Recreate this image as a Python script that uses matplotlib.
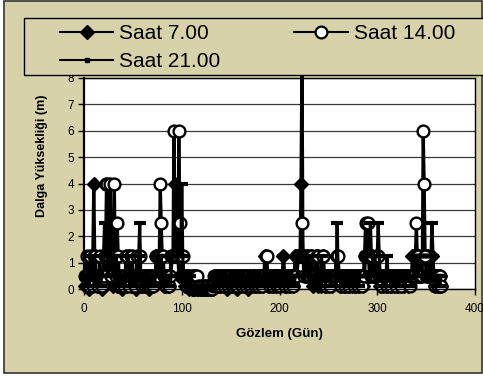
import matplotlib.pyplot as plt
from matplotlib.lines import Line2D
from matplotlib.patches import Rectangle
import numpy as np

plt.rcParams['font.family'] = ['Liberation Sans', 'DejaVu Sans']

# daily wave height readings (m), one value per day of the year
labels = ["Saat 7.00", "Saat 14.00", "Saat 21.00"]

saat_7 = [
    0.1, 0.5, 0.5, 0.1, 0, 0.1, 0.5, 1.25, 1.25, 4,
    1.25, 0.5, 0.1, 0.1, 0.5, 0.5, 0.1, 0, 0.1, 0.5,
    0.5, 1.25, 1.25, 1.25, 0.5, 0.5, 1.25, 1.25, 0.5, 0.1,
    0.5, 1.25, 0.5, 0.1, 0.1, 0.5, 0.5, 0.1, 0, 0.1,
    0.5, 0.5, 0.1, 0.1, 0.5, 1.25, 0.5, 0.1, 0.1, 0.5,
    0.5, 0.1, 0, 0.1, 0.5, 0.5, 0.5, 0.1, 0.1, 0.5,
    0.5, 0.1, 0.1, 0.5, 0.5, 0.1, 0, 0.1, 0.5, 0.1,
    0.1, 0.5, 0.5, 1.25, 0.5, 0.5, 1.25, 1.25, 0.5, 0.5,
    0.5, 0.1, 0.1, 0.5, 0.5, 0.1, 0.1, 0.5, 0.5, 1.25,
    1.25, 1.25, 4, 1.25, 1.25, 1.25, 0.5, 1.25, 1.25, 0.5,
    0.5, 0.5, 0.1, 0.1, 0.5, 0.1, 0, 0.1, 0.1, 0,
    0, 0.1, 0, 0, 0.1, 0, 0, 0.1, 0, 0,
    0.1, 0, 0, 0.1, 0, 0, 0.1, 0.1, 0, 0,
    0.1, 0, 0.1, 0.5, 0.1, 0.1, 0.5, 0.1, 0.1, 0.5,
    0.5, 0.1, 0.1, 0.5, 0.1, 0, 0.1, 0.5, 0.5, 0.1,
    0.1, 0.5, 0.1, 0.1, 0.5, 0.1, 0, 0.1, 0.5, 0.1,
    0.1, 0.5, 0.5, 0.1, 0.1, 0.5, 0.1, 0, 0.1, 0.5,
    0.1, 0.1, 0.5, 0.5, 0.1, 0.1, 0.5, 0.5, 0.1, 0.1,
    0.5, 0.5, 0.1, 0.5, 1.25, 0.5, 0.5, 0.1, 0.1, 0.5,
    0.5, 0.1, 0.1, 0.5, 0.5, 0.1, 0.5, 0.5, 0.1, 0.1,
    0.5, 0.5, 0.5, 1.25, 0.5, 0.1, 0.1, 0.5, 0.5, 0.1,
    0.1, 0.5, 0.5, 0.1, 0.5, 1.25, 0.5, 0.5, 1.25, 1.25,
    1.25, 4, 9, 1.25, 1.25, 0.5, 0.5, 1.25, 0.5, 0.5,
    0.5, 1.25, 0.5, 0.1, 0.5, 0.5, 1.25, 0.5, 0.1, 0.5,
    0.5, 0.1, 0.5, 1.25, 0.5, 0.5, 0.1, 0.1, 0.5, 0.5,
    0.1, 0.5, 0.5, 0.1, 0.5, 0.5, 0.5, 1.25, 0.5, 0.5,
    0.5, 0.1, 0.1, 0.5, 0.5, 0.1, 0.1, 0.5, 0.5, 0.1,
    0.1, 0.5, 0.5, 0.1, 0.5, 0.5, 0.1, 0.1, 0.5, 0.5,
    0.1, 0.5, 0.5, 0.5, 0.1, 0.5, 1.25, 1.25, 1.25, 1.25,
    1.25, 0.5, 0.5, 1.25, 1.25, 0.5, 0.5, 0.5, 1.25, 0.5,
    0.5, 0.5, 0.1, 0.5, 0.5, 0.1, 0.5, 0.5, 0.1, 0.1,
    0.5, 0.5, 0.1, 0.1, 0.5, 0.5, 0.1, 0.5, 0.5, 0.1,
    0.1, 0.5, 0.5, 0.1, 0.5, 0.5, 0.1, 0.5, 0.5, 0.5,
    0.1, 0.5, 0.5, 0.5, 0.5, 1.25, 0.5, 1.25, 1.25, 1.25,
    0.5, 0.5, 1.25, 0.5, 0.5, 1.25, 1.25, 1.25, 1.25, 1.25,
    1.25, 1.25, 0.5, 0.5, 1.25, 1.25, 0.5, 0.5, 0.1, 0.5,
    0.5, 0.1, 0.1, 0.5, 0.1,
]

saat_14 = [
    0.5, 0.5, 1.25, 0.5, 0.1, 1.25, 0.5, 0.5, 0.1, 1.25,
    1.25, 0.5, 0.5, 0.1, 0.5, 1.25, 0.5, 0.1, 0.5, 0.5,
    1.25, 1.25, 4, 4, 1.25, 1.25, 4, 0.5, 1.25, 1.25,
    4, 1.25, 0.5, 2.5, 1.25, 0.5, 0.5, 0.1, 0.5, 0.5,
    0.1, 0.5, 1.25, 1.25, 0.5, 0.1, 0.5, 1.25, 1.25, 0.5,
    0.5, 0.1, 0.5, 1.25, 0.5, 0.5, 1.25, 0.5, 0.1, 0.5,
    0.5, 0.1, 0.5, 0.5, 0.1, 0.5, 0.5, 0.1, 0.5, 0.5,
    0.1, 0.5, 0.5, 1.25, 1.25, 0.5, 1.25, 4, 2.5, 1.25,
    1.25, 0.5, 0.5, 0.1, 0.5, 0.5, 0.1, 0.5, 1.25, 1.25,
    1.25, 6, 1.25, 1.25, 1.25, 1.25, 6, 2.5, 1.25, 1.25,
    1.25, 0.5, 0.5, 0.5, 0.1, 0.5, 0.5, 0.1, 0.5, 0.5,
    0.1, 0.5, 0.5, 0.1, 0.5, 0.5, 0.1, 0, 0.1, 0,
    0, 0.1, 0, 0, 0.1, 0, 0.1, 0, 0, 0.1,
    0, 0.1, 0.5, 0.5, 0.1, 0.5, 0.5, 0.5, 0.1, 0.5,
    0.5, 0.5, 0.1, 0.5, 0.5, 0.5, 0.1, 0.5, 0.5, 0.5,
    0.1, 0.1, 0.5, 0.5, 0.5, 0.1, 0.1, 0.5, 0.5, 0.5,
    0.5, 0.1, 0.5, 0.5, 0.5, 0.1, 0.5, 0.5, 0.5, 0.1,
    0.1, 0.5, 0.5, 0.5, 0.1, 0.5, 0.5, 0.1, 0.5, 0.5,
    0.5, 0.1, 0.5, 0.5, 0.5, 1.25, 1.25, 0.5, 0.5, 0.1,
    0.5, 0.5, 0.1, 0.5, 0.5, 0.5, 0.1, 0.5, 0.5, 0.5,
    0.1, 0.5, 0.5, 0.5, 0.5, 0.1, 0.5, 0.5, 0.5, 0.1,
    0.5, 0.5, 0.5, 0.1, 0.5, 0.5, 0.5, 1.25, 1.25, 1.25,
    1.25, 1.25, 2.5, 1.25, 0.5, 1.25, 1.25, 0.5, 0.5, 1.25,
    0.5, 1.25, 1.25, 0.5, 0.5, 0.5, 0.5, 1.25, 1.25, 0.5,
    0.5, 0.5, 0.5, 1.25, 1.25, 0.5, 0.5, 0.1, 0.5, 0.5,
    0.5, 0.1, 0.5, 0.5, 0.5, 0.5, 0.5, 0.5, 1.25, 1.25,
    0.5, 0.5, 0.1, 0.5, 0.5, 0.5, 0.1, 0.5, 0.5, 0.5,
    0.1, 0.5, 0.5, 0.5, 0.5, 0.1, 0.5, 0.5, 0.5, 0.1,
    0.5, 0.5, 0.5, 0.1, 0.5, 0.5, 1.25, 2.5, 1.25, 1.25,
    2.5, 1.25, 1.25, 0.5, 1.25, 0.5, 0.5, 0.5, 0.5, 1.25,
    1.25, 0.5, 0.5, 0.5, 0.1, 0.5, 0.5, 0.5, 0.5, 0.1,
    0.5, 0.5, 0.5, 0.1, 0.5, 0.5, 0.5, 0.5, 0.1, 0.5,
    0.5, 0.5, 0.5, 0.1, 0.5, 0.5, 0.5, 0.5, 0.5, 0.5,
    0.5, 0.5, 0.1, 0.5, 0.5, 0.5, 0.5, 0.5, 1.25, 2.5,
    1.25, 1.25, 0.5, 0.5, 0.5, 0.5, 6, 4, 1.25, 0.5,
    0.5, 0.5, 0.5, 0.5, 0.5, 0.5, 0.5, 0.5, 0.1, 0.5,
    0.5, 0.1, 0.5, 0.5, 0.1,
]

saat_21 = [
    0.5, 0.1, 0.5, 0.5, 0.1, 0.5, 1.25, 0.5, 0.5, 1.25,
    0.5, 0.5, 0.1, 0.5, 0.5, 0.1, 0.1, 0.5, 0.5, 1.25,
    2.5, 1.25, 1.25, 1.25, 0.5, 1.25, 1.25, 1.25, 1.25, 0.5,
    1.25, 0.5, 1.25, 0.5, 0.5, 0.1, 0.5, 0.5, 0.1, 0.5,
    0.5, 0.1, 0.5, 0.5, 1.25, 0.5, 0.1, 0.5, 0.5, 0.1,
    0.5, 0.5, 0.1, 0.5, 0.5, 1.25, 2.5, 0.5, 0.1, 0.5,
    0.5, 0.1, 0.1, 0.5, 0.5, 0.1, 0.5, 0.5, 0.1, 0.5,
    0.5, 0.1, 0.5, 0.5, 1.25, 0.5, 1.25, 1.25, 1.25, 0.5,
    0.5, 0.1, 0.5, 0.5, 0.1, 0.5, 0.5, 0.1, 0.5, 1.25,
    1.25, 1.25, 1.25, 1.25, 1.25, 1.25, 1.25, 1.25, 1.25, 4,
    1.25, 0.5, 0.5, 0.1, 0.5, 0.1, 0.1, 0.5, 0.1, 0,
    0.1, 0, 0, 0.1, 0, 0.1, 0, 0, 0.1, 0,
    0, 0, 0.1, 0, 0, 0.1, 0, 0, 0.1, 0,
    0.1, 0.1, 0.5, 0.1, 0.1, 0.5, 0.1, 0.5, 0.5, 0.1,
    0.1, 0.5, 0.5, 0.1, 0.5, 0.1, 0.1, 0.5, 0.1, 0.1,
    0.5, 0.5, 0.1, 0.1, 0.5, 0.5, 0.1, 0.1, 0.5, 0.1,
    0.1, 0.5, 0.1, 0.1, 0.5, 0.5, 0.1, 0.5, 0.1, 0.1,
    0.5, 0.5, 0.1, 0.1, 0.5, 0.1, 0.1, 0.5, 0.5, 0.1,
    0.1, 0.5, 0.5, 0.1, 0.5, 0.5, 0.5, 0.1, 0.5, 0.5,
    0.1, 0.5, 0.5, 0.5, 0.1, 0.5, 0.5, 0.1, 0.5, 0.5,
    0.5, 0.1, 0.5, 1.25, 0.5, 0.5, 0.1, 0.5, 0.5, 0.5,
    0.1, 0.5, 0.5, 0.5, 0.1, 0.5, 0.5, 0.5, 1.25, 1.25,
    1.25, 1.25, 1.25, 1.25, 1.25, 0.5, 0.5, 1.25, 0.5, 0.5,
    1.25, 0.5, 0.5, 0.5, 0.1, 0.5, 0.5, 0.5, 0.5, 0.1,
    0.5, 0.5, 1.25, 0.5, 0.5, 0.5, 0.1, 0.5, 0.5, 0.5,
    0.5, 0.1, 0.5, 0.5, 0.5, 0.5, 0.5, 0.5, 2.5, 0.5,
    0.5, 0.5, 0.1, 0.5, 0.5, 0.1, 0.5, 0.5, 0.5, 0.1,
    0.5, 0.5, 0.5, 0.1, 0.5, 0.5, 0.1, 0.5, 0.5, 0.5,
    0.1, 0.5, 0.5, 0.5, 0.5, 0.5, 0.5, 1.25, 1.25, 1.25,
    1.25, 1.25, 2.5, 1.25, 1.25, 0.5, 0.5, 1.25, 1.25, 1.25,
    2.5, 1.25, 0.5, 0.5, 0.5, 0.5, 0.1, 0.5, 0.5, 1.25,
    0.5, 0.5, 0.5, 0.1, 0.5, 0.5, 0.5, 0.1, 0.5, 0.5,
    0.5, 0.1, 0.5, 0.5, 0.5, 0.5, 0.5, 0.1, 0.5, 0.5,
    0.5, 0.5, 0.5, 0.5, 0.1, 0.5, 0.5, 1.25, 1.25, 1.25,
    1.25, 0.5, 1.25, 1.25, 1.25, 1.25, 1.25, 1.25, 1.25, 1.25,
    1.25, 1.25, 1.25, 1.25, 1.25, 2.5, 1.25, 0.5, 0.5, 0.5,
    0.1, 0.5, 0.5, 0.1, 0.5,
]

xticks = [0, 100, 200, 300, 400]
yticks = [0, 1, 2, 3, 4, 5, 6, 7, 8]

W, H = 483, 376
bg = '#D8D2AA'

fig = plt.figure(figsize=(W / 100, H / 100), dpi=100, facecolor='white')

# chart area background + border
fig.patches.append(Rectangle((4 / W, 3 / H), 478 / W, 372 / H, transform=fig.transFigure,
                             facecolor=bg, edgecolor='#333333', lw=1.2, zorder=-10))

ax = fig.add_axes([84 / W, 1 - 289 / H, 391 / W, 211 / H])
ax.set_facecolor('white')

days = np.arange(1, len(saat_7) + 1)
ax.plot(days, saat_7, color='black', lw=2.3, marker='D', ms=7, mfc='black', mec='black', clip_on=False)
ax.plot(days, saat_14, color='black', lw=2.3, marker='o', ms=8.5, mfc='white', mec='black', mew=1.7, clip_on=False)
ax.plot(days, saat_21, color='black', lw=2.3, marker='_', ms=8, mew=3, mec='black', clip_on=False)

ax.set_xlim(0, 400)
ax.set_ylim(0, 8)
ax.set_xticks(xticks)
ax.set_yticks(yticks)
ax.yaxis.grid(True, color='#3a3a3a', lw=0.9)
ax.set_axisbelow(True)
ax.tick_params(direction='out', length=4, width=1, labelsize=8.5, colors='black', pad=3)
ax.tick_params(axis='x', pad=6)
for side, sp in ax.spines.items():
    sp.set_color('black')
    sp.set_linewidth(1)
ax.spines['left'].set_linewidth(1.6)

ax.set_ylabel('Dalga Yüksekliği (m)', fontsize=9, fontweight='bold')
ax.yaxis.set_label_coords(-0.092, 0.63)
ax.set_xlabel('Gözlem (Gün)', fontsize=9.5, fontweight='bold')
ax.xaxis.set_label_coords(0.5, -0.185)

# legend box (runs off the right edge, like the original)
fig.patches.append(Rectangle((24 / W, 1 - 75 / H), 470 / W, 57 / H, transform=fig.transFigure,
                             facecolor=bg, edgecolor='black', lw=1, zorder=5))

h7 = Line2D([], [], color='black', lw=1.5, marker='D', ms=7, mfc='black', mec='black')
h14 = Line2D([], [], color='black', lw=1.5, marker='o', ms=8.5, mfc='white', mec='black', mew=1.6)
h21 = Line2D([], [], color='black', lw=1.5, marker='s', ms=3.5, mfc='black', mec='black')
leg = fig.legend(handles=[h7, h21, h14], labels=[labels[0], labels[2], labels[1]], ncol=2,
                 loc='upper left', bbox_to_anchor=(60 / W, 1 - 24 / H), frameon=False,
                 fontsize=15, borderpad=0, borderaxespad=0, handlelength=2.55,
                 handletextpad=0.29, columnspacing=3.55, labelspacing=0.44)
leg.set_zorder(6)

fig.savefig('out.png', dpi=100, facecolor=fig.get_facecolor())
